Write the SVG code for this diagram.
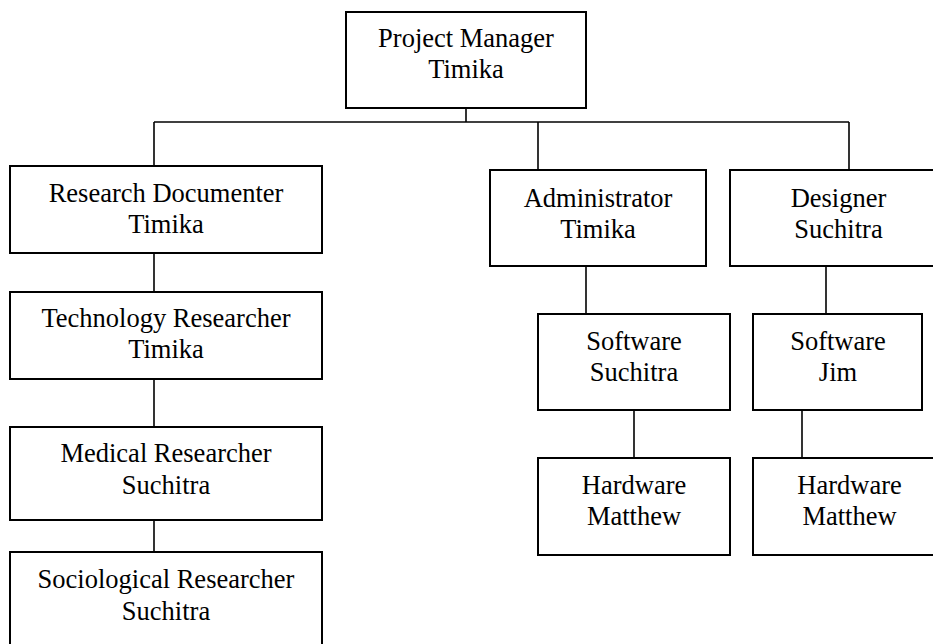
<svg xmlns="http://www.w3.org/2000/svg" width="933" height="644" viewBox="0 0 933 644">
  <style>
    .box { fill: #ffffff; stroke: #000000; stroke-width: 2; }
    .link { fill: none; stroke: #000000; stroke-width: 1.6; }
    .label { font-family: "Liberation Serif", "Times New Roman", serif; font-size: 26.5px; fill: #000000; text-anchor: middle; }
  </style>
  <rect width="933" height="644" fill="#ffffff"/>

  <!-- connectors -->
  <g id="connectors">
    <path class="link" d="M466 108 V122"/>
    <path class="link" d="M154 122 H849"/>
    <path class="link" d="M154 122 V166"/>
    <path class="link" d="M538 122 V170"/>
    <path class="link" d="M849 122 V170"/>
    <path class="link" d="M154 253 V292"/>
    <path class="link" d="M154 379 V427"/>
    <path class="link" d="M154 520 V552"/>
    <path class="link" d="M586 266 V314"/>
    <path class="link" d="M826 266 V314"/>
    <path class="link" d="M634 410 V458"/>
    <path class="link" d="M802 410 V458"/>
  </g>

  <g id="project-manager">
    <rect class="box" x="346" y="12" width="240" height="96"/>
    <text class="label" x="466" y="47">Project Manager</text>
    <text class="label" x="466" y="78">Timika</text>
  </g>

  <g id="research-documenter">
    <rect class="box" x="10" y="166" width="312" height="87"/>
    <text class="label" x="166" y="202">Research Documenter</text>
    <text class="label" x="166" y="233">Timika</text>
  </g>

  <g id="technology-researcher">
    <rect class="box" x="10" y="292" width="312" height="87"/>
    <text class="label" x="166" y="327">Technology Researcher</text>
    <text class="label" x="166" y="358">Timika</text>
  </g>

  <g id="medical-researcher">
    <rect class="box" x="10" y="427" width="312" height="93"/>
    <text class="label" x="166" y="462">Medical Researcher</text>
    <text class="label" x="166" y="494">Suchitra</text>
  </g>

  <g id="sociological-researcher">
    <rect class="box" x="10" y="552" width="312" height="100"/>
    <text class="label" x="166" y="588">Sociological Researcher</text>
    <text class="label" x="166" y="620">Suchitra</text>
  </g>

  <g id="administrator">
    <rect class="box" x="490" y="170" width="216" height="96"/>
    <text class="label" x="598" y="207">Administrator</text>
    <text class="label" x="598" y="238">Timika</text>
  </g>

  <g id="designer">
    <rect class="box" x="730" y="170" width="217" height="96"/>
    <text class="label" x="838.5" y="207">Designer</text>
    <text class="label" x="838.5" y="238">Suchitra</text>
  </g>

  <g id="software-suchitra">
    <rect class="box" x="538" y="314" width="192" height="96"/>
    <text class="label" x="634" y="350">Software</text>
    <text class="label" x="634" y="381">Suchitra</text>
  </g>

  <g id="software-jim">
    <rect class="box" x="753" y="314" width="169" height="96"/>
    <text class="label" x="838" y="350">Software</text>
    <text class="label" x="838" y="381">Jim</text>
  </g>

  <g id="hardware-matthew-1">
    <rect class="box" x="538" y="458" width="192" height="97"/>
    <text class="label" x="634" y="494">Hardware</text>
    <text class="label" x="634" y="525">Matthew</text>
  </g>

  <g id="hardware-matthew-2">
    <rect class="box" x="753" y="458" width="193" height="97"/>
    <text class="label" x="849.5" y="494">Hardware</text>
    <text class="label" x="849.5" y="525">Matthew</text>
  </g>
</svg>
